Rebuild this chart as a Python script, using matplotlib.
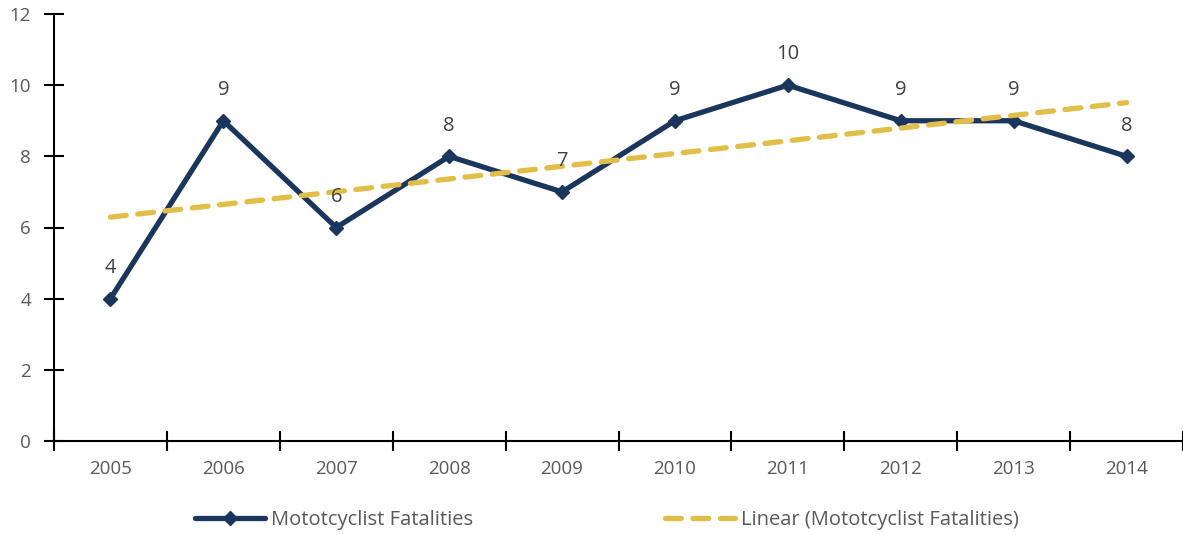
import matplotlib
matplotlib.use("Agg")
import matplotlib.pyplot as plt
import numpy as np
from matplotlib.ticker import FixedLocator, NullFormatter

years = ["2005", "2006", "2007", "2008", "2009", "2010", "2011", "2012", "2013", "2014"]
fatalities = [4, 9, 6, 8, 7, 9, 10, 9, 9, 8]
series_name = "Mototcyclist Fatalities"
trend_name = "Linear (Mototcyclist Fatalities)"

plt.rcParams['font.family'] = ['Open Sans', 'DejaVu Sans']
grey = "#595959"
navy = "#1B365D"
gold = "#E1BE47"

fig = plt.figure(figsize=(11.83, 5.35), dpi=100)
ax = fig.add_axes([54/1183, 1-441/535, 1-54/1183, (441-14)/535])

x = np.arange(len(years))
coef = np.polyfit(x, fatalities, 1)
trend = np.polyval(coef, x)

ln_tr, = ax.plot(x, trend, color=gold, lw=3.8, ls=(0, (3, 2.2)), dash_capstyle='round',
                 label=trend_name, zorder=3)
ln, = ax.plot(x, fatalities, color=navy, lw=3.8, marker='D', markersize=7.5,
              solid_capstyle='round', label=series_name, zorder=2)

for xi, v in zip(x, fatalities):
    ax.annotate(str(v), (xi, v), xytext=(0, 15), textcoords='offset points',
                ha='center', va='bottom', fontsize=14.5, color='#404040')

ax.set_xlim(-0.5, len(years) - 0.5)
ax.set_ylim(0, 12)
ax.set_yticks(range(0, 13, 2))
ax.xaxis.set_major_locator(FixedLocator(np.arange(-0.5, len(years), 1.0)))
ax.xaxis.set_major_formatter(NullFormatter())
ax.xaxis.set_minor_locator(FixedLocator(x))
ax.set_xticklabels(years, minor=True)
ax.tick_params(axis='x', which='minor', length=0, pad=14, labelsize=13.5, labelcolor=grey)
ax.tick_params(axis='x', which='major', direction='inout', length=15, width=1.5, color='black')
ax.tick_params(axis='y', direction='inout', length=15, width=1.5, color='black',
               labelsize=13.5, labelcolor=grey, pad=9)

for s in ['top', 'right']:
    ax.spines[s].set_visible(False)
for s in ['left', 'bottom']:
    ax.spines[s].set_linewidth(1.5)

fig.legend(handles=[ln, ln_tr], loc='center', bbox_to_anchor=(607/1183, 1-520/535),
           ncol=2, frameon=False, fontsize=14.5, labelcolor=grey, handlelength=3.5,
           handletextpad=0.3, columnspacing=9.5)

fig.savefig("out.png", dpi=100)
